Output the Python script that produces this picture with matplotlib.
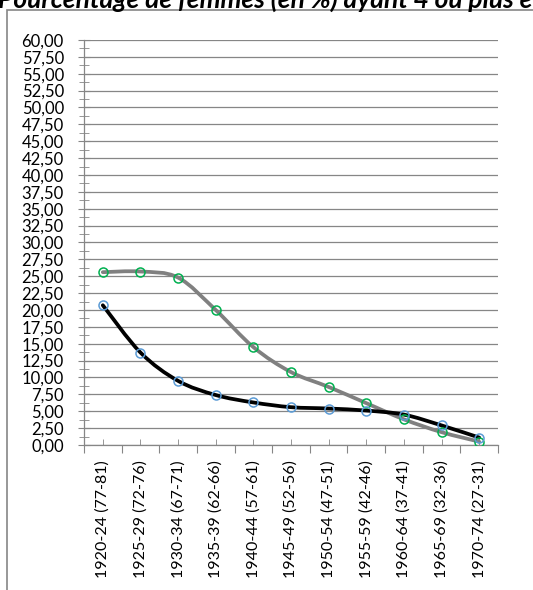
import matplotlib.pyplot as plt
import matplotlib.ticker as mticker
from matplotlib.path import Path
from matplotlib.patches import PathPatch, Rectangle
import numpy as np

# cohorts (age at survey)
categories = ['1920-24 (77-81)', '1925-29 (72-76)', '1930-34 (67-71)', '1935-39 (62-66)',
              '1940-44 (57-61)', '1945-49 (52-56)', '1950-54 (47-51)', '1955-59 (42-46)',
              '1960-64 (37-41)', '1965-69 (32-36)', '1970-74 (27-31)']
serie_noire = [20.7, 13.7, 9.5, 7.4, 6.3, 5.6, 5.4, 5.1, 4.5, 2.9, 1.1]
serie_grise = [25.6, 25.7, 24.8, 20.0, 14.5, 10.8, 8.6, 6.2, 3.8, 1.9, 0.5]
titre = 'Pourcentage de femmes (en %) ayant 4 ou plus enfants'

plt.rcParams['font.family'] = ['Lato', 'DejaVu Sans']


def smooth_path(x, y):
    # bezier smoothing like Excel's "smoothed line"
    x = np.asarray(x, float)
    y = np.asarray(y, float)
    verts = [(x[0], y[0])]
    codes = [Path.MOVETO]
    n = len(x)
    for i in range(n - 1):
        x0, y0 = (x[i - 1], y[i - 1]) if i > 0 else (x[i], y[i])
        x3, y3 = (x[i + 2], y[i + 2]) if i + 2 < n else (x[i + 1], y[i + 1])
        c1 = (x[i] + (x[i + 1] - x0) / 6, y[i] + (y[i + 1] - y0) / 6)
        c2 = (x[i + 1] - (x3 - x[i]) / 6, y[i + 1] - (y3 - y[i]) / 6)
        verts += [c1, c2, (x[i + 1], y[i + 1])]
        codes += [Path.CURVE4] * 3
    return Path(verts, codes)


fig = plt.figure(figsize=(5.33, 5.90), dpi=100)
ax = fig.add_axes([0.1576, 0.2458, 0.7767, 0.6864])

xs = np.arange(len(categories))
grid_col = '#868686'

ax.add_patch(PathPatch(smooth_path(xs, serie_grise), fill=False, edgecolor='#808080',
                       lw=2.7, capstyle='round', joinstyle='round', zorder=3))
ax.plot(xs, serie_grise, ls='none', marker='o', ms=6.5, mfc='none', mec='#00B050',
        mew=1.1, zorder=5)
ax.add_patch(PathPatch(smooth_path(xs, serie_noire), fill=False, edgecolor='black',
                       lw=2.7, capstyle='round', joinstyle='round', zorder=4))
ax.plot(xs, serie_noire, ls='none', marker='o', ms=6.5, mfc='none', mec='#5B9BD5',
        mew=1.1, zorder=5)

ax.set_xlim(-0.5, len(categories) - 0.5)
ax.set_ylim(0, 60)

ax.yaxis.set_major_locator(mticker.MultipleLocator(2.5))
ax.yaxis.set_minor_locator(mticker.MultipleLocator(1.25))
ax.yaxis.set_major_formatter(mticker.FuncFormatter(lambda v, p: f'{v:.2f}'.replace('.', ',')))
ax.grid(axis='y', which='major', color=grid_col, lw=0.9)
ax.set_axisbelow(True)

ax.set_xticks(np.arange(-0.5, len(categories), 1.0))
ax.set_xticklabels([])
ax.set_xticks(xs, minor=True)
ax.set_xticklabels(categories, minor=True, rotation=90, fontsize=11.5)
ax.tick_params(axis='x', which='major', direction='out', length=6, color=grid_col)
ax.tick_params(axis='x', which='minor', direction='in', length=4, color=grid_col, pad=11)
ax.tick_params(axis='y', which='major', direction='inout', length=9, color=grid_col,
               labelsize=12, pad=10)
ax.tick_params(axis='y', which='minor', direction='inout', length=7, color=grid_col)

for s in ['top', 'right']:
    ax.spines[s].set_visible(False)
for s in ['left', 'bottom']:
    ax.spines[s].set_color(grid_col)
    ax.spines[s].set_linewidth(0.9)

# chart border (cropped)
fig.patches.append(Rectangle((7 / 533, -0.1), 1.2, (590 - 10) / 590 + 0.1,
                             transform=fig.transFigure, fill=False,
                             edgecolor='#868686', lw=1.2))

fig.text(-0.004, 1 - 8 / 590, titre, fontsize=19, fontweight='bold', fontstyle='italic',
         va='baseline', ha='left')

fig.savefig('out.png', dpi=100)
